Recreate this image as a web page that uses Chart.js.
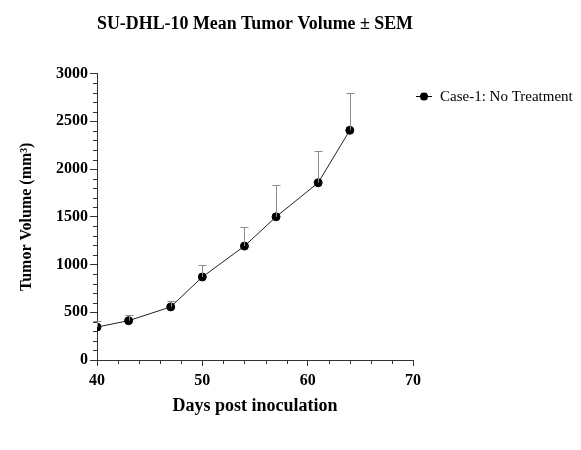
<!DOCTYPE html>
<html>
<head>
<meta charset="utf-8">
<script src="https://cdn.jsdelivr.net/npm/chart.js@4.4.1/dist/chart.umd.min.js"></script>
<style>
  html, body { margin: 0; padding: 0; background: #fff; }
  canvas { display: block; }
</style>
</head>
<body>
<canvas id="tumor" width="581" height="450"></canvas>
<script>
// SU-DHL-10 tumor growth, mean +/- SEM (upper bar only)

const CHART_TITLE = "SU-DHL-10 Mean Tumor Volume \u00B1 SEM";
const SERIES_LABEL = "Case-1: No Treatment";

const days = [40, 43, 47, 50, 54, 57, 61, 64];
const meanVolume = [345, 412, 556, 870, 1193, 1500, 1857, 2406];
const semVolume = [65, 57, 63, 127, 195, 333, 336, 395];

const xTicks = [40, 50, 60, 70];
const yTicks = [0, 500, 1000, 1500, 2000, 2500, 3000];

const FONT = "'Liberation Serif', 'Times New Roman', serif";
const AXIS_COLOR = "#333";

// upward-only error bars with small caps
const errorBars = {
  id: "errorBars",
  afterDatasetsDraw(chart) {
    const { ctx, scales: { x, y } } = chart;
    ctx.save();
    ctx.strokeStyle = "#8a8a8a";
    ctx.lineWidth = 1;
    days.forEach((d, i) => {
      const px = Math.round(x.getPixelForValue(d)) + 0.5;
      const y0 = y.getPixelForValue(meanVolume[i]);
      const y1 = Math.round(y.getPixelForValue(meanVolume[i] + semVolume[i])) + 0.5;
      ctx.beginPath();
      ctx.moveTo(px, y0);
      ctx.lineTo(px, y1);
      ctx.moveTo(px - 4, y1);
      ctx.lineTo(px + 4, y1);
      ctx.stroke();
    });
    ctx.restore();
  }
};

// minor tick marks (every 2 days, every 100 mm3)
const minorTicks = {
  id: "minorTicks",
  afterDraw(chart) {
    const { ctx, scales: { x, y } } = chart;
    ctx.save();
    ctx.strokeStyle = AXIS_COLOR;
    ctx.lineWidth = 1;
    ctx.beginPath();
    for (let v = x.min; v <= x.max; v += 2) {
      if (v % 10 === 0) continue;
      const px = Math.round(x.getPixelForValue(v)) + 0.5;
      ctx.moveTo(px, x.top);
      ctx.lineTo(px, x.top + 4);
    }
    for (let v = y.min; v <= y.max; v += 100) {
      if (v % 500 === 0) continue;
      const py = Math.round(y.getPixelForValue(v)) + 0.5;
      ctx.moveTo(y.right, py);
      ctx.lineTo(y.right - 4, py);
    }
    ctx.stroke();
    ctx.restore();
  }
};

// legend drawn to the right of the plot
const sideLegend = {
  id: "sideLegend",
  afterDraw(chart) {
    const { ctx } = chart;
    const ly = 96;
    ctx.save();
    ctx.strokeStyle = "#000";
    ctx.lineWidth = 1;
    ctx.beginPath();
    ctx.moveTo(416, ly + 0.5);
    ctx.lineTo(432, ly + 0.5);
    ctx.stroke();
    ctx.fillStyle = "#000";
    ctx.beginPath();
    ctx.arc(424, ly + 0.5, 4, 0, Math.PI * 2);
    ctx.fill();
    ctx.font = "15px " + FONT;
    ctx.textBaseline = "middle";
    ctx.fillText(SERIES_LABEL, 440, ly + 1);
    ctx.restore();
  }
};

new Chart(document.getElementById("tumor"), {
  type: "scatter",
  data: {
    datasets: [{
      label: SERIES_LABEL,
      data: days.map((d, i) => ({ x: d, y: meanVolume[i] })),
      showLine: true,
      borderColor: "#222",
      borderWidth: 1,
      backgroundColor: "#000",
      pointBackgroundColor: "#000",
      pointBorderColor: "#000",
      pointRadius: 4,
      pointBorderWidth: 1
    }]
  },
  options: {
    responsive: false,
    animation: false,
    devicePixelRatio: 1,
    layout: { padding: { left: 0, right: 168, top: 0, bottom: 0 } },
    plugins: {
      legend: { display: false },
      tooltip: { enabled: false },
      title: {
        display: true,
        fullSize: false,
        text: CHART_TITLE,
        color: "#000",
        font: { family: FONT, size: 18, weight: "bold" },
        padding: { top: 14, bottom: 38 }
      }
    },
    scales: {
      x: {
        type: "linear",
        min: 40,
        max: 70,
        afterFit: (s) => { s.height = 90; },
        afterBuildTicks: (s) => { s.ticks = xTicks.map(v => ({ value: v })); },
        ticks: {
          color: "#000",
          font: { family: FONT, size: 16, weight: "bold" },
          padding: 5,
          maxRotation: 0,
          callback: (v) => String(v)
        },
        grid: { drawOnChartArea: false, tickLength: 6, color: AXIS_COLOR },
        border: { color: AXIS_COLOR, width: 1 },
        title: {
          display: true,
          text: "Days post inoculation",
          color: "#000",
          font: { family: FONT, size: 18, weight: "bold" },
          padding: { top: 0, bottom: 33 }
        }
      },
      y: {
        min: 0,
        max: 3000,
        afterFit: (s) => { s.width = 97; },
        afterBuildTicks: (s) => { s.ticks = yTicks.map(v => ({ value: v })); },
        ticks: {
          color: "#000",
          font: { family: FONT, size: 16, weight: "bold" },
          padding: 2,
          callback: (v) => String(v)
        },
        grid: { drawOnChartArea: false, tickLength: 7, color: AXIS_COLOR },
        border: { color: AXIS_COLOR, width: 1 },
        title: {
          display: true,
          text: "Tumor Volume (mm\u00B3)",
          color: "#000",
          font: { family: FONT, size: 16, weight: "bold" },
          padding: { top: 17, bottom: 0 }
        }
      }
    }
  },
  plugins: [errorBars, minorTicks, sideLegend]
});
</script>
</body>
</html>
